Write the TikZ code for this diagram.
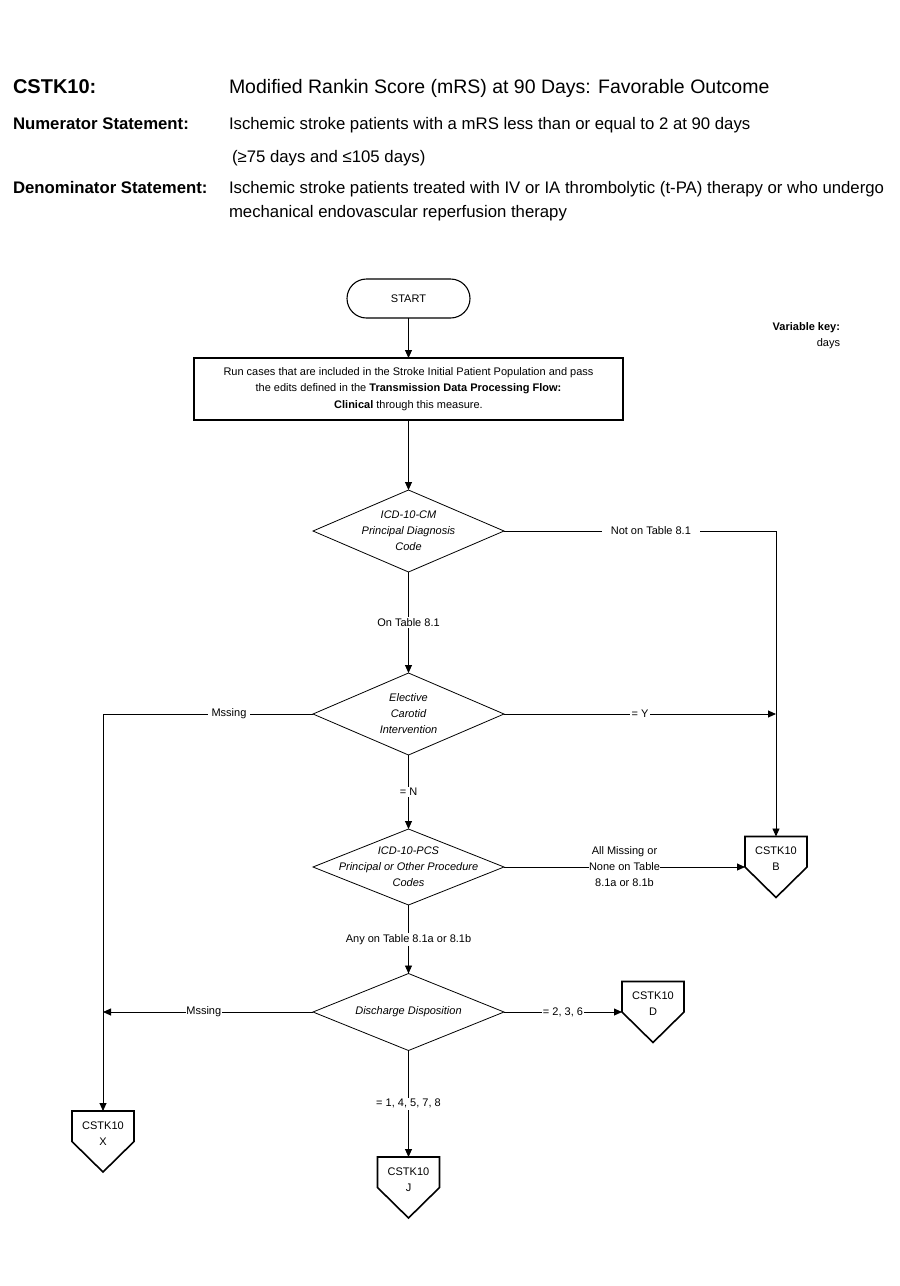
\documentclass[tikz,border=0pt]{standalone}
\usepackage{fontspec}
\setmainfont{Liberation Sans}
\usetikzlibrary{positioning,shapes.geometric,shapes.misc,arrows.meta}

\newcommand{\chartfont}{\fontsize{11}{16}\selectfont}

\begin{document}
\begin{tikzpicture}[x=1pt, y=-1pt,
    every node/.style={inner sep=0pt, outer sep=0pt},
    flow/.style={line width=0.9pt, -{Triangle[length=8pt,width=7pt]}},
    lbl/.style={fill=white, inner sep=1.5pt, font=\chartfont},
    decision/.style={diamond, draw, line width=0.8pt, minimum width=191pt},
    dtext/.style={align=center, font=\chartfont\itshape},
    otext/.style={align=center, font=\chartfont, yshift=8pt},
    offpage/.style={minimum width=62pt, minimum height=61pt}]
    \useasboundingbox (0,0) rectangle (900,1286);

    % header
    \node[anchor=base west, font=\fontsize{20}{24}\selectfont\bfseries] (mid) at (13,93) {CSTK10:};
    \node[anchor=base west, font=\fontsize{19.5}{24}\selectfont] (mtitle) at (229,93) {Modified Rankin Score (mRS) at 90 Days: Favorable Outcome};
    \node[anchor=base west, font=\fontsize{16.75}{24}\selectfont\bfseries] (numlbl) at (13,129) {Numerator Statement:};
    \node[anchor=base west, font=\fontsize{16.75}{24}\selectfont] (numtxt) at (229,129) {Ischemic stroke patients with a mRS less than or equal to 2 at 90 days};
    \node[anchor=base west, font=\fontsize{16.75}{24}\selectfont] (numrng) at (232,162) {(≥75 days and ≤105 days)};
    \node[anchor=base west, font=\fontsize{16.75}{24}\selectfont\bfseries] (denlbl) at (13,193) {Denominator Statement:};
    \node[anchor=base west, font=\fontsize{16.75}{24}\selectfont] (dentxt) at (229,193) {Ischemic stroke patients treated with IV or IA thrombolytic (t-PA) therapy or who undergo};
    \node[anchor=base west, font=\fontsize{16.75}{24}\selectfont] (dentxt2) at (229,217) {mechanical endovascular reperfusion therapy};

    \node[anchor=east, align=right, font=\chartfont] (varkey) at (840,336) {\textbf{Variable key:}\\days};

    % flow
    \node[rounded rectangle, draw, line width=1.1pt, minimum width=123pt, minimum height=39pt, font=\chartfont] (start) at (408.5,298.5) {START};
    \node[rectangle, draw, line width=1.6pt, minimum width=429pt, minimum height=62pt, align=center, font=\fontsize{11}{16.5}\selectfont] (run) at (408.5,389)
        {Run cases that are included in the Stroke Initial Patient Population and pass\\
         the edits defined in the \textbf{Transmission Data Processing Flow:}\\
         \textbf{Clinical} through this measure.};
    \node[decision, minimum height=82pt, label={[dtext]center:ICD-10-CM\\Principal Diagnosis\\Code}] (icdcm) at (408.5,531) {};
    \node[decision, minimum height=82pt, label={[dtext]center:Elective\\Carotid\\Intervention}] (carotid) at (408.5,714) {};
    \node[decision, minimum height=76pt, label={[dtext]center:ICD-10-PCS\\Principal or Other Procedure\\Codes}] (icdpcs) at (408.5,867) {};
    \node[decision, minimum height=77pt, label={[dtext]center:Discharge Disposition}] (dispo) at (408.5,1012) {};

    \node[offpage, label={[otext]center:CSTK10\\B}] (outB) at (776,867) {};
    \node[offpage, label={[otext]center:CSTK10\\D}] (outD) at (653,1012) {};
    \node[offpage, label={[otext]center:CSTK10\\J}] (outJ) at (408.5,1187.5) {};
    \node[offpage, label={[otext]center:CSTK10\\X}] (outX) at (103,1141.5) {};
    \foreach \n in {outB,outD,outJ,outX}
        \draw[line width=1.6pt, line join=miter] (\n.north west) -- (\n.north east) -- (\n.east) -- (\n.south) -- (\n.west) -- cycle;

    \coordinate (yjoin) at (outB.north |- carotid.east);
    \coordinate (xjoin) at (outX.north |- dispo.west);

    \draw[flow] (start) -- (run);
    \draw[flow] (run) -- (icdcm);
    \draw[flow] (icdcm) -- node[lbl] {On Table 8.1} (carotid);
    \draw[flow] (carotid) -- node[lbl] {= N} (icdpcs);
    \draw[flow] (icdpcs) -- node[lbl] {Any on Table 8.1a or 8.1b} (dispo);
    \draw[flow] (dispo) -- node[lbl] {= 1, 4, 5, 7, 8} (outJ);
    \draw[flow] (icdcm.east) -| node[lbl, pos=0.27, inner xsep=9pt] {Not on Table 8.1} (outB.north);
    \draw[flow] (carotid.east) -- node[lbl] {= Y} (yjoin);
    \draw[flow] (icdpcs.east) -- node[lbl, inner sep=0.5pt, align=center] {All Missing or\\None on Table\\8.1a or 8.1b} (outB.west);
    \draw[flow] (dispo.east) -- node[lbl, inner sep=0.5pt] {= 2, 3, 6} (outD.west);
    \draw[flow] (carotid.west) -| node[lbl, pos=0.2, inner xsep=4pt] {Mssing} (outX.north);
    \draw[flow] (dispo.west) -- node[lbl, pos=0.52, inner sep=0.5pt] {Mssing} (xjoin);
\end{tikzpicture}
\end{document}
